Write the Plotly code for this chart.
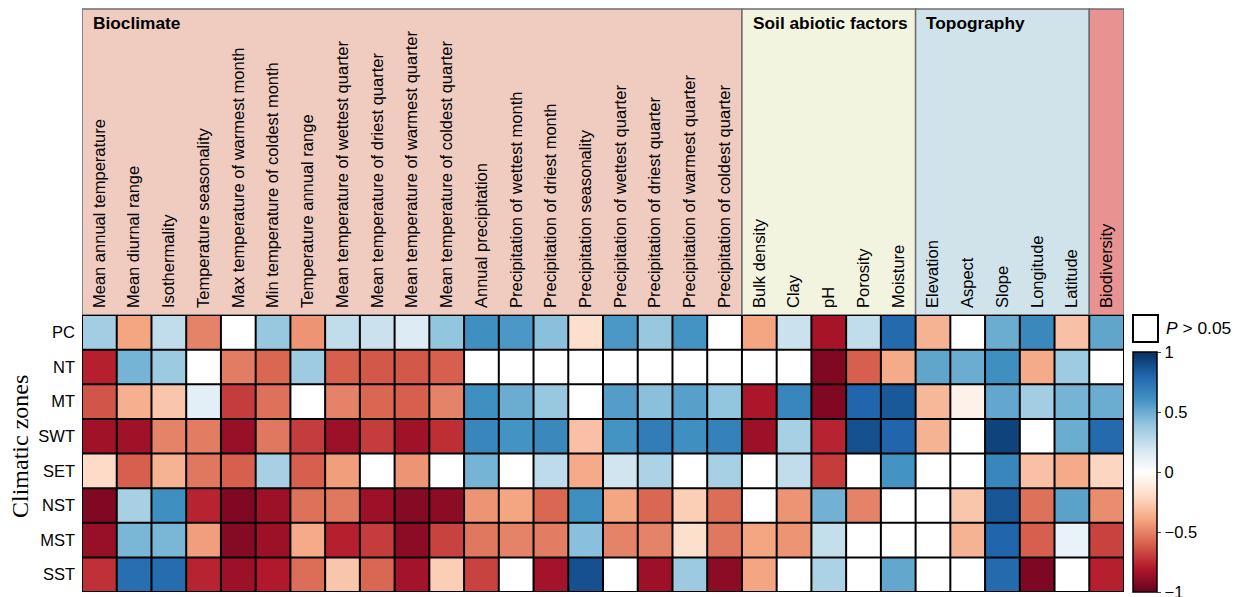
import plotly.graph_objects as go

# Environmental drivers, grouped as they appear across the top of the chart
bioclimate = [
    "Mean annual temperature", "Mean diurnal range", "Isothermality",
    "Temperature seasonality", "Max temperature of warmest month",
    "Min temperature of coldest month", "Temperature annual range",
    "Mean temperature of wettest quarter", "Mean temperature of driest quarter",
    "Mean temperature of warmest quarter", "Mean temperature of coldest quarter",
    "Annual precipitation", "Precipitation of wettest month",
    "Precipitation of driest month", "Precipitation seasonality",
    "Precipitation of wettest quarter", "Precipitation of driest quarter",
    "Precipitation of warmest quarter", "Precipitation of coldest quarter",
]
soil = ["Bulk density", "Clay", "pH", "Porosity", "Moisture"]
topography = ["Elevation", "Aspect", "Slope", "Longitude", "Latitude"]
biodiversity = ["Biodiversity"]
drivers = bioclimate + soil + topography + biodiversity

zones = ["PC", "NT", "MT", "SWT", "SET", "NST", "MST", "SST"]

N = None  # not significant (P > 0.05)

# Correlation coefficients, one list per climatic zone (same order as drivers)
r_pc = [0.35, -0.40, 0.25, -0.50, N, 0.38, -0.45, 0.25, 0.22, 0.15, 0.40,
        0.62, 0.58, 0.42, -0.18, 0.58, 0.38, 0.60, N,
        -0.40, 0.22, -0.83, 0.25, 0.78,
        -0.35, N, 0.50, 0.65, -0.30,
        0.53]
r_nt = [-0.78, 0.47, 0.37, N, -0.52, -0.58, 0.36, -0.60, -0.62, -0.62, -0.60,
        N, N, N, N, N, N, N, N,
        N, N, -0.93, -0.60, -0.38,
        0.53, 0.50, 0.62, -0.38, 0.36,
        N]
r_mt = [-0.63, -0.36, -0.28, 0.12, -0.70, -0.55, N, -0.50, -0.58, -0.60, -0.50,
        0.62, 0.50, 0.38, N, 0.56, 0.42, 0.55, 0.40,
        -0.82, 0.66, -0.93, 0.80, 0.85,
        -0.33, -0.08, 0.52, 0.35, 0.47,
        0.50]
r_swt = [-0.85, -0.85, -0.50, -0.52, -0.87, -0.53, -0.70, -0.86, -0.70, -0.85, -0.74,
         0.66, 0.60, 0.65, -0.30, 0.60, 0.70, 0.62, 0.68,
         -0.86, 0.33, -0.77, 0.88, 0.80,
         -0.35, N, 0.93, N, 0.50,
         0.78]
r_set = [-0.20, -0.60, -0.35, -0.53, -0.60, 0.33, -0.60, -0.42, N, -0.45, N,
         0.47, N, 0.26, -0.38, 0.20, 0.32, N, 0.33,
         N, 0.25, -0.70, N, 0.60,
         N, N, 0.66, -0.30, -0.38,
         -0.22]
r_nst = [-0.93, 0.33, 0.62, -0.77, -0.93, -0.86, -0.55, -0.53, -0.86, -0.92, -0.90,
         -0.45, -0.40, -0.58, 0.62, -0.40, -0.58, -0.25, -0.56,
         N, -0.45, 0.48, -0.50, N,
         N, -0.28, 0.86, -0.55, 0.54,
         -0.47]
r_mst = [-0.87, 0.46, 0.46, -0.42, -0.92, -0.86, -0.38, -0.78, -0.70, -0.90, -0.68,
         -0.53, -0.50, -0.52, 0.42, -0.50, -0.50, -0.18, -0.53,
         -0.40, -0.45, 0.24, N, N,
         N, -0.35, 0.80, -0.60, 0.10,
         -0.68]
r_sst = [-0.73, 0.76, 0.77, -0.77, -0.86, -0.80, -0.56, -0.28, -0.58, -0.84, -0.25,
         -0.68, N, -0.84, 0.88, N, -0.86, 0.37, -0.90,
         -0.40, N, 0.32, N, 0.52,
         N, N, 0.78, -0.94, N,
         -0.78]

z = [r_pc, r_nt, r_mt, r_swt, r_set, r_nst, r_mst, r_sst]

colorbar_ticks = [-1, -0.5, 0, 0.5, 1]
colorbar_labels = ["\u22121", "\u22120.5", "0", "0.5", "1"]

# Diverging red-blue scale (ColorBrewer RdBu), red = negative
rdbu = [
    [0.0, "#67001F"], [0.1, "#B2182B"], [0.2, "#D6604D"], [0.3, "#F4A582"],
    [0.4, "#FDDBC7"], [0.5, "#FFFFFF"], [0.6, "#D1E5F0"], [0.7, "#92C5DE"],
    [0.8, "#4393C3"], [0.9, "#2166AC"], [1.0, "#053061"],
]

W, H = 1238, 597
ML, MR, MT, MB = 82, 114, 315, 5
plot_w = W - ML - MR
plot_h = H - MT - MB

SANS = "Liberation Sans, Arial"


def px_x(px):
    return (px - ML) / plot_w


def px_y(py):
    return (H - MB - py) / plot_h


nx, ny = len(drivers), len(zones)

fig = go.Figure()
fig.add_trace(go.Heatmap(
    z=z,
    x=list(range(nx)),
    y=list(range(ny)),
    zmin=-1, zmax=1,
    colorscale=rdbu,
    hoverongaps=False,
    colorbar=dict(
        x=px_x(1133), xanchor="left", xpad=0,
        y=px_y(592), yanchor="bottom", ypad=0,
        len=240 / plot_h, lenmode="fraction",
        thickness=24,
        outlinecolor="black", outlinewidth=1.5,
        tickvals=colorbar_ticks,
        ticktext=colorbar_labels,
        ticks="outside", ticklen=4, tickcolor="#444",
        ticklabeloverflow="allow",
        tickfont=dict(family=SANS, size=16.5, color="black"),
    ),
))

shapes = []
# Group header panels behind the rotated labels
groups = [
    (bioclimate, "#F0CBC0", "Bioclimate"),
    (soil, "#F3F4E0", "Soil abiotic factors"),
    (topography, "#D0E3EA", "Topography"),
    (biodiversity, "#E99292", None),
]
annotations = []
start = 0
for names, color, title in groups:
    x0 = start - 0.5
    x1 = start + len(names) - 0.5
    shapes.append(dict(
        type="rect", xref="x", yref="paper", x0=x0, x1=x1,
        y0=1.0, y1=px_y(9), fillcolor=color,
        line=dict(color="#6E6E6E", width=1.5), layer="below",
    ))
    if title:
        annotations.append(dict(
            x=x0 + 0.25, y=px_y(23), xref="x", yref="paper",
            text=f"<b>{title}</b>", showarrow=False,
            xanchor="left", yanchor="middle",
            font=dict(family=SANS, size=17.3, color="black"),
        ))
    start += len(names)

# Cell borders
for i in range(nx + 1):
    shapes.append(dict(type="line", xref="x", yref="y",
                       x0=i - 0.5, x1=i - 0.5, y0=-0.5, y1=ny - 0.5,
                       line=dict(color="black", width=2)))
for j in range(ny + 1):
    shapes.append(dict(type="line", xref="x", yref="y",
                       x0=-0.5, x1=nx - 0.5, y0=j - 0.5, y1=j - 0.5,
                       line=dict(color="black", width=2)))

# Key for non-significant cells
shapes.append(dict(type="rect", xref="paper", yref="paper",
                   x0=px_x(1133), x1=px_x(1158), y0=px_y(342), y1=px_y(315),
                   fillcolor="white", line=dict(color="black", width=2)))
annotations.append(dict(
    x=px_x(1164), y=px_y(328), xref="paper", yref="paper",
    text="<i>P</i> > 0.05", showarrow=False, xanchor="left", yanchor="middle",
    font=dict(family=SANS, size=17.4, color="black"),
))

annotations.append(dict(
    x=px_x(20), y=px_y(447), xref="paper", yref="paper",
    text="Climatic zones", showarrow=False, textangle=-90,
    xanchor="center", yanchor="middle",
    font=dict(family="Liberation Serif, Times New Roman", size=24, color="black"),
))

fig.update_layout(
    width=W, height=H,
    margin=dict(l=ML, r=MR, t=MT, b=MB, autoexpand=False),
    paper_bgcolor="white", plot_bgcolor="white",
    shapes=shapes, annotations=annotations,
    xaxis=dict(
        side="top", tickmode="array", tickvals=list(range(nx)), ticktext=drivers,
        tickangle=-90, range=[-0.5, nx - 0.5], showgrid=False, zeroline=False,
        ticks="", ticklabelstandoff=6, automargin=False,
        tickfont=dict(family=SANS, size=16.5, color="black"),
    ),
    yaxis=dict(
        tickmode="array", tickvals=list(range(ny)), ticktext=zones,
        range=[ny - 0.5, -0.5], showgrid=False, zeroline=False, ticks="",
        ticklabelstandoff=6, automargin=False,
        tickfont=dict(family=SANS, size=16.5, color="black"),
    ),
)

fig.write_html("out.html", config={"displayModeBar": False})
